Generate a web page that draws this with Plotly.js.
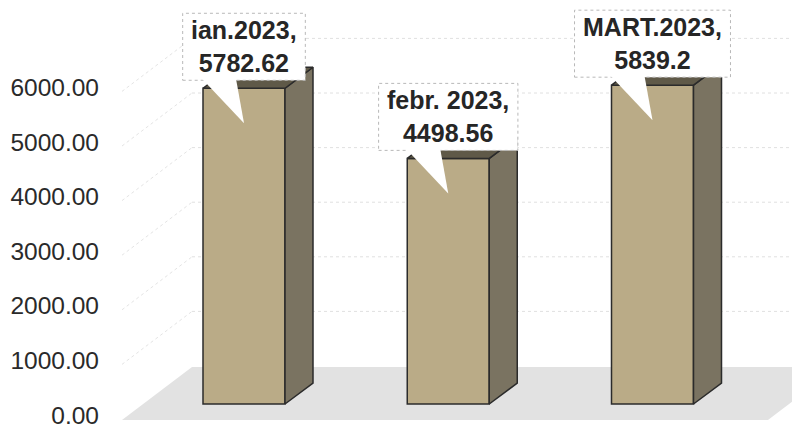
<!DOCTYPE html>
<html>
<head>
<meta charset="utf-8">
<script src="https://cdn.plot.ly/plotly-3.0.1.min.js"></script>
<style>html,body{margin:0;padding:0;background:#fff;}#chart{width:792px;height:430px;}</style>
</head>
<body>
<div id="chart"></div>
<script>
// ---- data ----
const categories = ['ian.2023', 'febr. 2023', 'MART.2023'];
const values = [5782.62, 4498.56, 5839.2];
const tickValues = [0, 1000, 2000, 3000, 4000, 5000, 6000];

// ---- geometry / style constants ----
const PX_PER_UNIT = 0.0546;      // vertical pixels per value unit
const X_PX_PER_UNIT = 204.25;    // horizontal pixels per category step
const FRONT_ZERO_PX = 419;       // pixel row of value 0 on the front plane
const H = 430, W = 792, ML = 110;
const BAR_SHIFT_PX = 15;         // bar plane sits behind front plane
const LABEL_SHIFT_PX = 4;        // tick labels sit slightly above the front plane
const BACK_SHIFT_PX = 53;        // back wall height shift
const BACK_DX_PX = 70;           // back wall horizontal shift
const BAR_W = 82 / X_PX_PER_UNIT;
const DEPTH_DX = 28 / X_PX_PER_UNIT;
const DEPTH_DY = 21 / PX_PER_UNIT;

const yLo = -(H - FRONT_ZERO_PX) / PX_PER_UNIT;
const yHi = FRONT_ZERO_PX / PX_PER_UNIT;
const barShiftU = BAR_SHIFT_PX / PX_PER_UNIT;
const labelShiftU = LABEL_SHIFT_PX / PX_PER_UNIT;
const backShiftU = BACK_SHIFT_PX / PX_PER_UNIT;
const xLo = -(244 - ML) / X_PX_PER_UNIT;
const xHi = xLo + (W - ML) / X_PX_PER_UNIT;
const backDx = BACK_DX_PX / X_PX_PER_UNIT;

const FONT = 'Arial, "Liberation Sans", sans-serif';
const FRONT_COL = '#baab87';
const SIDE_COL = '#7a7361';
const TOP_COL = '#5f5948';
const EDGE_COL = '#2b2b2b';

const xs = categories.map((c, i) => i);

const traces = [];
xs.forEach((x, i) => {
  const v = values[i];
  const xr = x + BAR_W / 2, xl = x - BAR_W / 2;
  traces.push({
    type: 'scatter', mode: 'lines', xaxis: 'x', yaxis: 'y2',
    x: [xr, xr + DEPTH_DX, xr + DEPTH_DX, xr, xr],
    y: [0, DEPTH_DY, v + DEPTH_DY, v, 0],
    fill: 'toself', fillcolor: SIDE_COL,
    line: {color: EDGE_COL, width: 1.5}, hoverinfo: 'skip', showlegend: false
  });
  traces.push({
    type: 'scatter', mode: 'lines', xaxis: 'x', yaxis: 'y2',
    x: [xl, xl + DEPTH_DX, xr + DEPTH_DX, xr, xl],
    y: [v, v + DEPTH_DY, v + DEPTH_DY, v, v],
    fill: 'toself', fillcolor: TOP_COL,
    line: {color: EDGE_COL, width: 1.5}, hoverinfo: 'skip', showlegend: false
  });
});
traces.push({
  type: 'bar', x: xs, y: values, xaxis: 'x', yaxis: 'y2',
  width: BAR_W,
  marker: {color: FRONT_COL, line: {color: EDGE_COL, width: 1.5}},
  hoverinfo: 'skip', showlegend: false
});
// invisible trace so the label axis is drawn
traces.push({type: 'scatter', mode: 'markers', x: [0], y: [0], xaxis: 'x', yaxis: 'y3',
  marker: {opacity: 0}, hoverinfo: 'skip', showlegend: false});

// ---- shapes: back grid, side-wall diagonals, floor ----
const shapes = [];
tickValues.forEach(t => {
  if (t > 0) {
    shapes.push({type: 'line', layer: 'below', xref: 'x', yref: 'y',
      x0: xLo + (192 - ML) / X_PX_PER_UNIT, x1: xHi, y0: t + backShiftU, y1: t + backShiftU,
      line: {color: '#e0e0e0', width: 1, dash: 'dot'}});
    shapes.push({type: 'line', layer: 'below', xref: 'x', yref: 'y',
      x0: xLo + (122 - ML) / X_PX_PER_UNIT, x1: xLo + (192 - ML) / X_PX_PER_UNIT,
      y0: t, y1: t + backShiftU,
      line: {color: '#e4e4e4', width: 1, dash: 'dot'}});
  }
});
const fl = xLo + (122 - ML) / X_PX_PER_UNIT, fr = xLo + (768 - ML) / X_PX_PER_UNIT;
const fy = -1 / PX_PER_UNIT;
shapes.push({type: 'path', layer: 'below', xref: 'x', yref: 'y',
  path: `M ${fl},${fy} L ${fr},${fy} L ${fr + backDx},${fy + backShiftU} L ${fl + backDx},${fy + backShiftU} Z`,
  fillcolor: '#e2e2e2', line: {width: 0}});

// ---- callouts ----
const CALLOUT_FS = 25;
const ctx = document.createElement('canvas').getContext('2d');
ctx.font = 'bold ' + CALLOUT_FS + 'px ' + FONT;
const annotations = [];
xs.forEach((x, i) => {
  const v = values[i];
  const l1 = categories[i] + ',';
  const l2 = String(v);
  const w = Math.max(ctx.measureText(l1).width, ctx.measureText(l2).width) + 17;
  shapes.push({type: 'rect', layer: 'above', xref: 'x', yref: 'y2',
    xsizemode: 'pixel', ysizemode: 'pixel', xanchor: x, yanchor: v,
    x0: -w / 2, x1: w / 2, y0: 8, y1: 75,
    fillcolor: '#ffffff', line: {color: '#b8b8b8', width: 1, dash: 'dot'}});
  shapes.push({type: 'path', layer: 'above', xref: 'x', yref: 'y2',
    xsizemode: 'pixel', ysizemode: 'pixel', xanchor: x, yanchor: v,
    path: 'M -42,9.5 L -8,9.5 L 0,-35 Z',
    fillcolor: '#ffffff', line: {width: 0}});
  annotations.push({xref: 'x', yref: 'y2', x: x, y: v, yshift: 41.5,
    xanchor: 'center', yanchor: 'middle', showarrow: false,
    text: '<b>' + l1 + '</b><br><b>' + l2 + '</b>',
    font: {family: FONT, size: CALLOUT_FS, color: '#262626'}});
});

const layout = {
  width: W, height: H,
  margin: {l: ML, r: 0, t: 0, b: 0},
  paper_bgcolor: '#ffffff', plot_bgcolor: 'rgba(0,0,0,0)',
  showlegend: false,
  xaxis: {range: [xLo, xHi], visible: false, fixedrange: true},
  yaxis: {range: [yLo, yHi], visible: false, fixedrange: true},
  yaxis2: {range: [yLo - barShiftU, yHi - barShiftU], overlaying: 'y', visible: false, fixedrange: true},
  yaxis3: {range: [yLo - labelShiftU, yHi - labelShiftU], overlaying: 'y', side: 'left',
    tickvals: tickValues, tickformat: '.2f',
    showgrid: false, zeroline: false, showline: false, ticks: '',
    ticklabelstandoff: 10, ticklabeloverflow: 'allow',
    tickfont: {family: FONT, size: 24.5, color: '#2a2a2a'}, fixedrange: true},
  shapes: shapes,
  annotations: annotations
};

Plotly.newPlot('chart', traces, layout, {staticPlot: true, displayModeBar: false});
</script>
</body>
</html>
